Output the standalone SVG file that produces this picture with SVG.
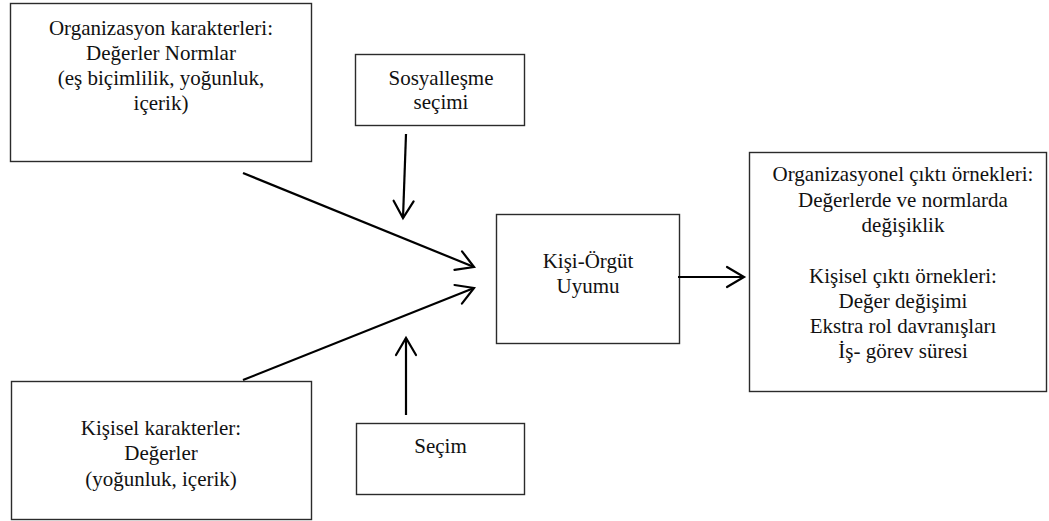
<svg xmlns="http://www.w3.org/2000/svg" width="1049" height="521" viewBox="0 0 1049 521">
  <defs>
    <style>
      .box { fill: #ffffff; stroke: #2b2b2b; stroke-width: 1.4; }
      .lbl { font-family: "Liberation Serif", "Times New Roman", serif; font-size: 21px; fill: #111111; text-anchor: middle; }
      .link { stroke: #000000; stroke-width: 2.2; fill: none; marker-end: url(#openArrow); }
    </style>
    <marker id="openArrow" markerUnits="userSpaceOnUse" markerWidth="40" markerHeight="40" viewBox="-20 -20 40 40" refX="0" refY="0" orient="auto" overflow="visible">
      <path d="M-17,-10 L0,0 L-17,10" fill="none" stroke="#000000" stroke-width="2.2" stroke-linecap="round" stroke-linejoin="miter"/>
    </marker>
  </defs>
  <rect width="1049" height="521" fill="#ffffff"/>

  <!-- organisation characteristics -->
  <g id="org-characteristics">
    <rect class="box" x="10.5" y="3.5" width="301" height="158"/>
    <text class="lbl" x="161" y="35">Organizasyon karakterleri:</text>
    <text class="lbl" x="161" y="60">Değerler Normlar</text>
    <text class="lbl" x="161" y="85">(eş biçimlilik, yoğunluk,</text>
    <text class="lbl" x="161" y="110">içerik)</text>
  </g>

  <!-- socialisation choice -->
  <g id="socialisation">
    <rect class="box" x="355.5" y="54.5" width="169" height="71"/>
    <text class="lbl" x="441" y="85">Sosyalleşme</text>
    <text class="lbl" x="441" y="109">seçimi</text>
  </g>

  <!-- person-organisation fit -->
  <g id="person-org-fit">
    <rect class="box" x="496.5" y="214.5" width="183" height="129"/>
    <text class="lbl" x="588" y="268">Kişi-Örgüt</text>
    <text class="lbl" x="588" y="293">Uyumu</text>
  </g>

  <!-- outcomes -->
  <g id="outcomes">
    <rect class="box" x="749.5" y="152.5" width="297" height="239"/>
    <text class="lbl" x="903" y="181">Organizasyonel çıktı örnekleri:</text>
    <text class="lbl" x="903" y="207">Değerlerde ve normlarda</text>
    <text class="lbl" x="903" y="232">değişiklik</text>
    <text class="lbl" x="903" y="283">Kişisel çıktı örnekleri:</text>
    <text class="lbl" x="903" y="308">Değer değişimi</text>
    <text class="lbl" x="903" y="333">Ekstra rol davranışları</text>
    <text class="lbl" x="903" y="358">İş- görev süresi</text>
  </g>

  <!-- personal characteristics -->
  <g id="personal-characteristics">
    <rect class="box" x="11.5" y="381.5" width="300" height="138"/>
    <text class="lbl" x="161" y="435">Kişisel karakterler:</text>
    <text class="lbl" x="161" y="460">Değerler</text>
    <text class="lbl" x="161" y="486">(yoğunluk, içerik)</text>
  </g>

  <!-- selection -->
  <g id="selection">
    <rect class="box" x="356.5" y="423.5" width="168" height="71"/>
    <text class="lbl" x="440.5" y="453">Seçim</text>
  </g>

  <!-- connectors -->
  <g id="connectors">
    <line class="link" x1="243" y1="173" x2="474" y2="267"/>
    <line class="link" x1="406" y1="134" x2="403" y2="218"/>
    <line class="link" x1="243" y1="380" x2="474" y2="288"/>
    <line class="link" x1="406" y1="415" x2="406" y2="338"/>
    <line class="link" x1="678" y1="277" x2="744" y2="277"/>
  </g>
</svg>
